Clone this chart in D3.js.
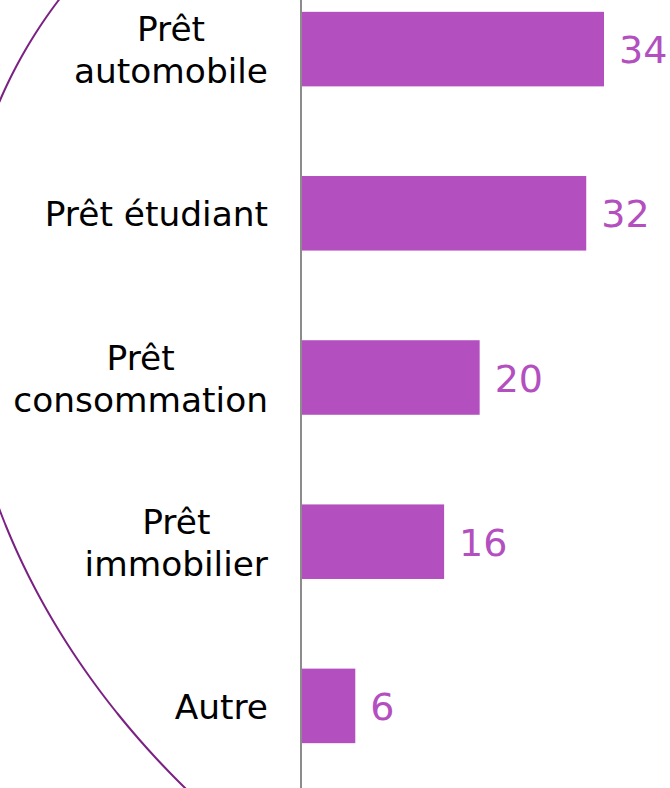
<!DOCTYPE html>
<html>
<head>
<meta charset="utf-8">
<script src="https://cdn.jsdelivr.net/npm/d3@7"></script>
<style>
  body { margin: 0; background: #fff; }
  svg { display: block; font-family: "DejaVu Sans", Verdana, sans-serif; }
</style>
</head>
<body>
<div id="chart"></div>
<script>
const width = 670;
const height = 788;

// data
const categories = ["Prêt automobile", "Prêt étudiant", "Prêt consommation", "Prêt immobilier", "Autre"];
const labelLines = [["Prêt", "automobile"], ["Prêt étudiant"], ["Prêt", "consommation"], ["Prêt", "immobilier"], ["Autre"]];
const values = [34, 32, 20, 16, 6];

// points seen on the decorative oval at the left
const ovalPoints = [[59, 0], [25, 50], [0, 100], [0, 503], [23, 570], [56, 629], [92, 680], [135, 730], [183, 788]];

const barColor = "#b34fbf";

const svg = d3.select("#chart")
    .append("svg")
    .attr("width", width)
    .attr("height", height);

const x = d3.scaleLinear()
    .domain([0, 34])
    .range([302, 604]);

const y = d3.scaleBand()
    .domain(categories)
    .range([-33, 788])
    .paddingInner(0.546)
    .paddingOuter(0.273);

// fit a conic A u^2 + B uv + v^2 + D u + E v + F = 0 to the oval points (least squares)
function fitOval(pts) {
    const rows = pts.map(p => { const u = p[0] / 100, v = p[1] / 100; return [u * u, u * v, u, v, 1, -v * v]; });
    const n = 5;
    const M = d3.range(n).map(i => d3.range(n + 1).map(j => d3.sum(rows, r => r[i] * r[j])));
    for (let c = 0; c < n; c++) {
        let p = c;
        for (let r = c + 1; r < n; r++) if (Math.abs(M[r][c]) > Math.abs(M[p][c])) p = r;
        [M[c], M[p]] = [M[p], M[c]];
        for (let r = 0; r < n; r++) {
            if (r === c) continue;
            const f = M[r][c] / M[c][c];
            for (let k = c; k <= n; k++) M[r][k] -= f * M[c][k];
        }
    }
    return d3.range(n).map(i => M[i][n] / M[i][i]);
}
const [A, B, D, E, F] = fitOval(ovalPoints);
const ovalLeft = d3.range(-20, height + 22, 2).map(py => {
    const v = py / 100;
    const b = B * v + D, c = v * v + E * v + F;
    const disc = b * b - 4 * A * c;
    if (disc < 0) return null;
    return [100 * (-b - Math.sqrt(disc)) / (2 * A), py];
});

svg.append("path")
    .datum(ovalLeft)
    .attr("d", d3.line().defined(d => d !== null))
    .attr("fill", "none")
    .attr("stroke", "#7b2183")
    .attr("stroke-width", 2);

// bars
svg.selectAll("rect.bar")
    .data(values)
    .enter()
    .append("rect")
    .attr("class", "bar")
    .attr("x", x(0))
    .attr("y", (d, i) => y(categories[i]))
    .attr("width", d => x(d) - x(0))
    .attr("height", y.bandwidth())
    .attr("fill", barColor);

// value labels
svg.selectAll("text.value")
    .data(values)
    .enter()
    .append("text")
    .attr("class", "value")
    .attr("x", d => x(d) + 15)
    .attr("y", (d, i) => y(categories[i]) + y.bandwidth() / 2 + 14)
    .attr("font-size", 38)
    .attr("fill", barColor)
    .text(d => d);

// category labels: lines centred on each other, block right aligned
const labelRight = 268;
const lineGap = 42;
categories.forEach((cat, i) => {
    const lines = labelLines[i];
    const cy = y(cat) + y.bandwidth() / 2 + 13;
    const texts = svg.append("g").selectAll("text")
        .data(lines)
        .enter()
        .append("text")
        .attr("font-size", 34.4)
        .attr("fill", "#000")
        .attr("text-anchor", "middle")
        .attr("y", (d, j) => cy + (j - (lines.length - 1) / 2) * lineGap)
        .text(d => d);
    let maxW = 0;
    texts.each(function() { maxW = Math.max(maxW, this.getComputedTextLength()); });
    texts.attr("x", labelRight - maxW / 2);
});

// vertical axis line
svg.append("line")
    .attr("x1", 301).attr("x2", 301)
    .attr("y1", 0).attr("y2", height)
    .attr("stroke", "#8c8c8c")
    .attr("stroke-width", 2);
</script>
</body>
</html>
